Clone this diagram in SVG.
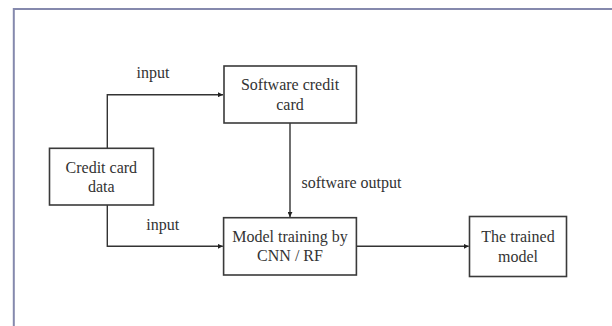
<svg xmlns="http://www.w3.org/2000/svg" width="612" height="326" viewBox="0 0 612 326">
<defs>
<marker id="arr" viewBox="0 0 10 10" refX="10" refY="5" markerWidth="5" markerHeight="5" markerUnits="userSpaceOnUse" orient="auto">
<path d="M0,0 L10,5 L0,10 z" fill="#222"/>
</marker>
<style>
.box{fill:#fff;stroke:#3a3a3a;stroke-width:1.6}
.t{font-family:"Liberation Serif","Times New Roman",serif;font-size:16px;fill:#333;text-anchor:middle}
.c{fill:none;stroke:#333;stroke-width:1.4}
</style>
</defs>
<rect width="612" height="326" fill="#fff"/>
<path d="M13.8,330 V9 H620" fill="none" stroke="#8589ad" stroke-width="2"/>
<g id="connectors">
<path class="c" d="M107.3,148 V94.7 H223" marker-end="url(#arr)"/>
<path class="c" d="M107.3,205 V246.3 H222.8" marker-end="url(#arr)"/>
<path class="c" d="M290,123 V216.9" marker-end="url(#arr)"/>
<path class="c" d="M356.4,246.3 H468.7" marker-end="url(#arr)"/>
<text class="t" x="153" y="78.3">input</text>
<text class="t" x="162.8" y="230">input</text>
<text class="t" x="301.5" y="188.3" style="text-anchor:start">software output</text>
</g>
<g id="credit-card-data">
<rect class="box" x="49.5" y="148.3" width="104" height="56.7"/>
<text class="t" x="101.3" y="172.7">Credit card</text>
<text class="t" x="101.3" y="191.7">data</text>
</g>
<g id="software-credit-card">
<rect class="box" x="224" y="66" width="132.4" height="57"/>
<text class="t" x="290" y="90">Software credit</text>
<text class="t" x="290" y="109.5">card</text>
</g>
<g id="model-training">
<rect class="box" x="223.6" y="217.7" width="132.8" height="57.3"/>
<text class="t" x="290" y="241.7">Model training by</text>
<text class="t" x="290" y="261">CNN / RF</text>
</g>
<g id="trained-model">
<rect class="box" x="469.5" y="216.5" width="97" height="60"/>
<text class="t" x="518" y="241.7">The trained</text>
<text class="t" x="518" y="261.7">model</text>
</g>
</svg>
